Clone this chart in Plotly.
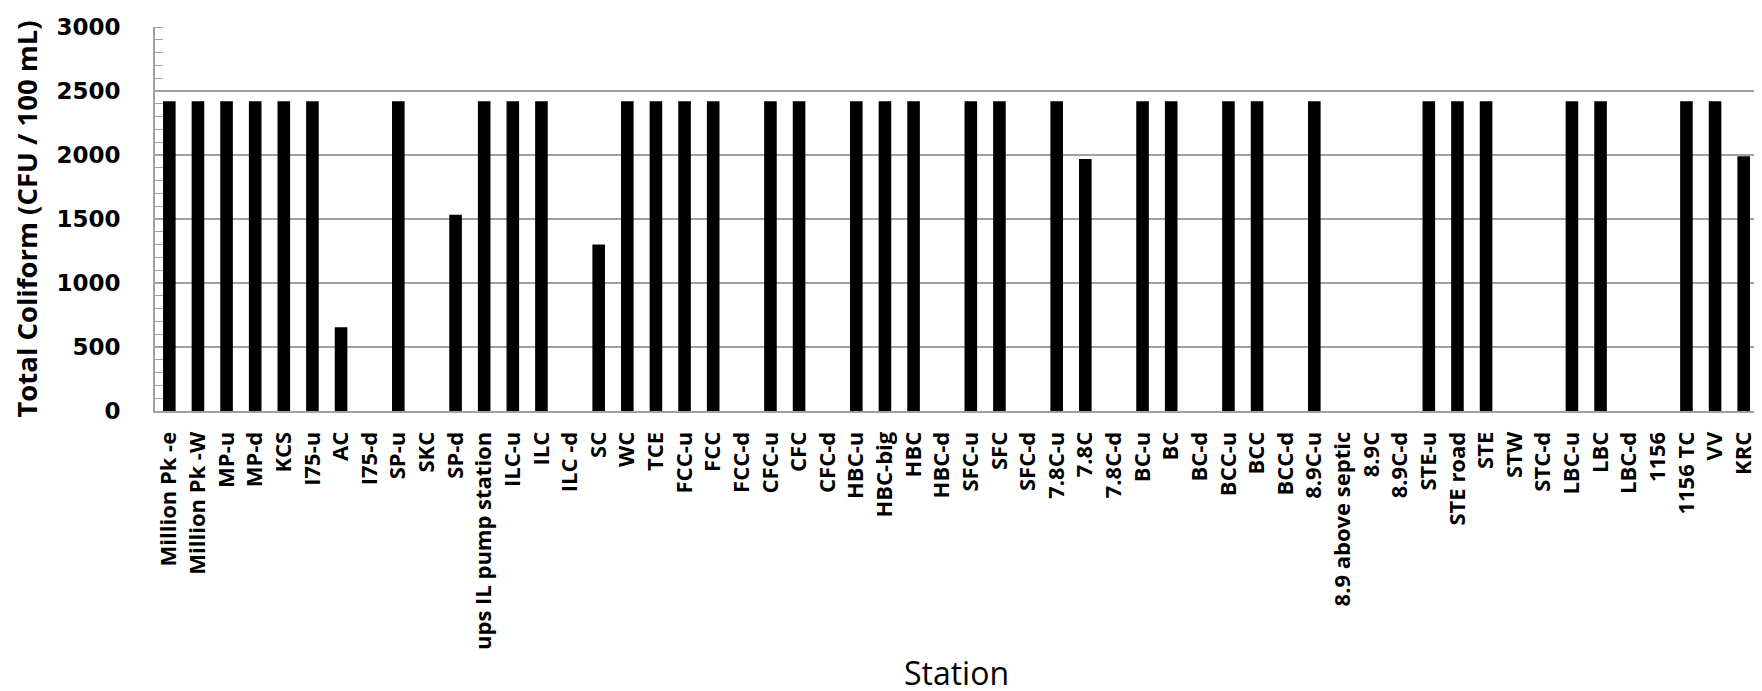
import plotly.graph_objects as go

stations = [
    "Million Pk -e", "Million Pk -W", "MP-u", "MP-d", "KCS", "I75-u", "AC", "I75-d",
    "SP-u", "SKC", "SP-d", "ups IL pump station", "ILC-u", "ILC", "ILC -d", "SC",
    "WC", "TCE", "FCC-u", "FCC", "FCC-d", "CFC-u", "CFC", "CFC-d", "HBC-u", "HBC-big",
    "HBC", "HBC-d", "SFC-u", "SFC", "SFC-d", "7.8C-u", "7.8C", "7.8C-d", "BC-u", "BC",
    "BC-d", "BCC-u", "BCC", "BCC-d", "8.9C-u", "8.9 above septic", "8.9C", "8.9C-d",
    "STE-u", "STE road", "STE", "STW", "STC-d", "LBC-u", "LBC", "LBC-d", "1156",
    "1156 TC", "VV", "KRC",
]

total_coliform = [
    2420, 2420, 2420, 2420, 2420, 2420, 654, None,
    2420, None, 1534, 2420, 2420, 2420, None, 1300,
    2420, 2420, 2420, 2420, None, 2420, 2420, None, 2420, 2420,
    2420, None, 2420, 2420, None, 2420, 1969, None, 2420, 2420,
    None, 2420, 2420, None, 2420, None, None, None,
    2420, 2420, 2420, None, None, 2420, 2420, None, None,
    2420, 2420, 1990,
]

y_ticks = [0, 500, 1000, 1500, 2000, 2500, 3000]

FONT = "Open Sans"
NUM_FONT = "DejaVu Sans"
GRID = "#a0a0a0"

fig = go.Figure(
    go.Bar(
        x=stations,
        y=total_coliform,
        marker=dict(color="#000000", line=dict(width=0)),
    )
)

fig.update_layout(
    width=1762,
    height=691,
    margin=dict(l=147, r=12, t=19, b=288),
    paper_bgcolor="white",
    plot_bgcolor="white",
    bargap=0.56,
    showlegend=False,
    font=dict(family=FONT, color="black"),
)

fig.update_xaxes(
    type="category",
    tickangle=-90,
    tickfont=dict(family=FONT, size=22, color="black", weight="bold"),
    showline=True,
    linecolor=GRID,
    linewidth=2,
    showgrid=False,
    ticks="",
    ticklabelstandoff=10,
    title=dict(text="Station", font=dict(family=FONT, size=32, color="black"), standoff=14),
    automargin=False,
)

fig.update_yaxes(
    range=[0, 3000],
    tickvals=y_ticks,
    tickfont=dict(family=NUM_FONT, size=23, color="black", weight="bold"),
    showline=True,
    linecolor=GRID,
    linewidth=2,
    showgrid=True,
    gridcolor=GRID,
    gridwidth=1.5,
    zeroline=False,
    ticks="",
    ticklabelstandoff=28,
    minor=dict(ticks="inside", dtick=100, ticklen=8, tickcolor=GRID, tickwidth=1, showgrid=False),
    title=dict(text="Total Coliform (CFU / 100 mL)", font=dict(family=FONT, size=27.5, color="black", weight="bold"), standoff=11),
    automargin=False,
)

fig.write_html("out.html")
